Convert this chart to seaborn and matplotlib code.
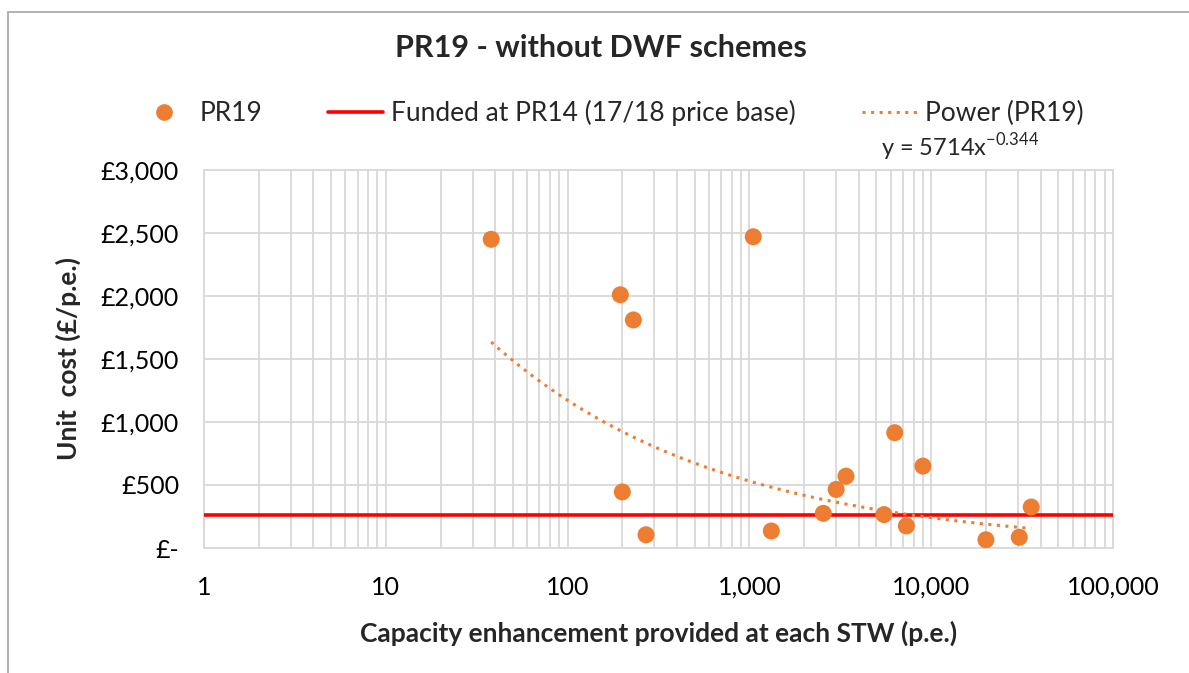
import numpy as np
import pandas as pd
import matplotlib
matplotlib.use("Agg")
import matplotlib.pyplot as plt
import matplotlib.ticker as mticker
from matplotlib.lines import Line2D
from matplotlib.patches import Rectangle
import seaborn as sns

# capacity enhancement (p.e.) and unit cost (£/p.e.)
capacity = [38, 195, 230, 200, 270, 1050, 1320, 2550, 3000, 3400,
            6300, 5500, 7300, 9000, 20000, 30500, 35500]
unit_cost = [2450, 2010, 1810, 445, 105, 2470, 135, 275, 465, 570,
             915, 265, 175, 650, 65, 85, 325]

funded_pr14 = 258          # £/p.e., 17/18 price base
trend_a, trend_b = 5714, -0.344   # power trendline from the chart label

x_ticks = [1, 10, 100, 1000, 10000, 100000]
y_ticks = [0, 500, 1000, 1500, 2000, 2500, 3000]

orange = "#ED7D31"
red = "#FF0000"
grid_col = "#D9D9D9"

df = pd.DataFrame({"capacity": capacity, "unit_cost": unit_cost})

sns.set_theme(style="white")
plt.rcParams["font.family"] = ["Lato", "DejaVu Sans"]

fig = plt.figure(figsize=(11.89, 6.73), dpi=100)
ax = fig.add_axes([204 / 1189, 1 - 548 / 673, (1113 - 204) / 1189, (548 - 170) / 673])

# outer chart frame (left and top edges visible)
fig.patches.append(Rectangle((8 / 1189, -0.1), 1.2, 1 - 12 / 673 + 0.1,
                             transform=fig.transFigure, fill=False,
                             edgecolor="#A6A6A6", lw=1.2))

ax.set_xscale("log")
ax.set_xlim(1, 100000)
ax.set_ylim(0, 3000)

ax.axhline(funded_pr14, color=red, lw=2.6, zorder=3)

xs = np.logspace(np.log10(min(capacity)), np.log10(max(capacity)), 200)
ax.plot(xs, trend_a * xs ** trend_b, color=orange, lw=2.2, ls=(0, (1, 1.8)), zorder=3)

sns.scatterplot(data=df, x="capacity", y="unit_cost", ax=ax, color=orange,
                s=150, edgecolor="none", zorder=4, legend=False)

ax.set_xticks(x_ticks)
ax.xaxis.set_major_formatter(mticker.FuncFormatter(lambda v, p: f"{v:,.0f}"))
ax.xaxis.set_minor_locator(mticker.LogLocator(base=10, subs=np.arange(2, 10)))
ax.xaxis.set_minor_formatter(mticker.NullFormatter())
ax.set_yticks(y_ticks)
ax.yaxis.set_major_formatter(mticker.FuncFormatter(
    lambda v, p: "£-" if v == 0 else f"£{v:,.0f}"))

ax.grid(which="major", axis="both", color=grid_col, lw=1.3)
ax.grid(which="minor", axis="x", color=grid_col, lw=1.3)
ax.set_axisbelow(True)
for sp in ax.spines.values():
    sp.set_color(grid_col)
    sp.set_linewidth(1.3)
ax.tick_params(axis="both", which="both", length=0, labelsize=18, colors="#000000")
ax.tick_params(axis="x", pad=20)
ax.tick_params(axis="y", pad=18)

ax.set_xlabel("Capacity enhancement provided at each STW (p.e.)", fontsize=19,
              fontweight="bold", labelpad=16)
ax.set_ylabel("Unit  cost (£/p.e.)", fontsize=19, fontweight="bold", labelpad=14)

fig.text(601 / 1189, 1 - 48 / 673, "PR19 - without DWF schemes", fontsize=22,
         fontweight="bold", ha="center", va="center")

handles = [
    Line2D([], [], marker="o", color=orange, ls="none", markersize=11),
    Line2D([], [], color=red, lw=2.6),
    Line2D([], [], color=orange, lw=2.2, ls=(0, (1, 1.8))),
]
labels = ["PR19", "Funded at PR14 (17/18 price base)", "Power (PR19)"]
fig.legend(handles, labels, loc="center", bbox_to_anchor=(610 / 1189, 1 - 113 / 673),
           ncol=3, frameon=False, fontsize=19, handlelength=2.1, columnspacing=2.5,
           handletextpad=0.3)
fig.text(960 / 1189, 1 - 147 / 673, r"y = 5714x$^{\mathregular{-0.344}}$", fontsize=17,
         ha="center", va="center")

fig.savefig("out.png", dpi=100, facecolor="white")
